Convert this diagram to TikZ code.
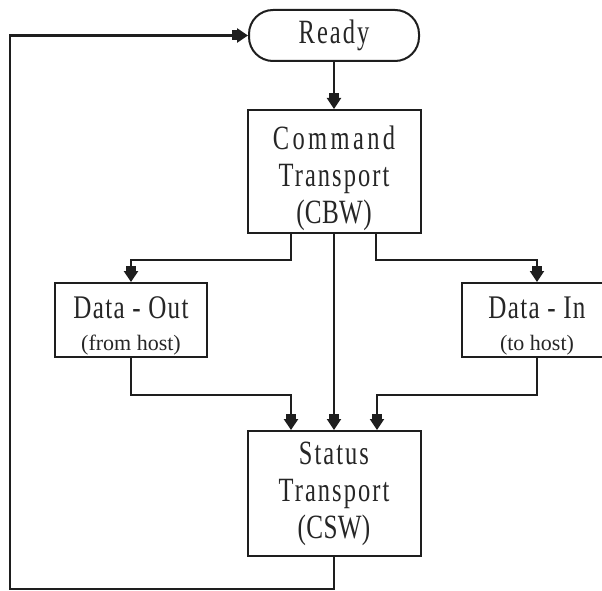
\documentclass[tikz,border=0pt]{standalone}
\usepackage{fontspec}
\setmainfont{Liberation Serif}
\newfontfamily\fA[FakeStretch=0.72,LetterSpace=10]{Liberation Serif}
\newfontfamily\fB[FakeStretch=0.72,LetterSpace=6]{Liberation Serif}
\newfontfamily\fC[FakeStretch=0.76,LetterSpace=4]{Liberation Serif}
\newfontfamily\fD[FakeStretch=0.74,LetterSpace=1]{Liberation Serif}
\usetikzlibrary{arrows.meta,calc}
\definecolor{ink}{HTML}{1E1E1E}
\definecolor{txt}{HTML}{262626}
\begin{document}
\begin{tikzpicture}[x=1pt,y=-1pt,
  box/.style={draw=ink, line width=2pt, inner sep=0pt, align=center, text=txt},
  big/.style={font=\fontsize{34}{37}\selectfont},
  thinln/.style={draw=ink, line width=2pt},
  thickln/.style={draw=ink, line width=2.8pt},
  arr/.style={-{Rectangle[width=10pt,length=5pt,sep=0pt]Triangle[width=14pt,length=11pt]}}]
\clip (0,0) rectangle (602,591);
\fill[white] (0,0) rectangle (602,591);
\node[box, big, rounded corners=24pt, minimum width=170pt, minimum height=51pt] (ready) at (334,35.5) {\fB Ready};
\node[box, big, minimum width=173pt, minimum height=123pt] (cmd) at (334,171.5)
  {{\rule{0pt}{38pt}\fA Command}\\{\fB Transport}\\{\fD (CBW)}};
\node[box, font=\fontsize{33}{32}\selectfont, minimum width=152pt, minimum height=74pt] (dout) at (131,320)
  {{\rule{0pt}{34pt}\fC Data - Out}\\{\fontsize{22}{32}\selectfont (from host)}};
\node[box, font=\fontsize{33}{32}\selectfont, minimum width=150pt, minimum height=74pt] (din) at (537,320)
  {{\rule{0pt}{34pt}\fC Data - In}\\{\fontsize{22}{32}\selectfont (to host)}};
\node[box, big, minimum width=173pt, minimum height=125pt] (status) at (334,493.5)
  {{\fB Status}\\{\fB Transport}\\{\fD (CSW)}};
\coordinate (corner) at (10,589);
\draw[thinln,arr] (ready.south) -- (ready.south |- cmd.north);
\draw[thickln,arr] ([xshift=-43pt]cmd.south) -- ++(0,26) -| (dout.north);
\draw[thinln,arr] ([xshift=42pt]cmd.south) -- ++(0,26) -| (din.north);
\draw[thinln,arr] (cmd.south) -- (status.north);
\draw[thickln,arr] (dout.south) -- ++(0,37) -| ([xshift=-43pt]status.north);
\draw[thinln,arr] (din.south) -- ++(0,37) -| ([xshift=43pt]status.north);
\draw[thickln,arr] (status.south) |- (corner) |- (ready.west);
\end{tikzpicture}
\end{document}
